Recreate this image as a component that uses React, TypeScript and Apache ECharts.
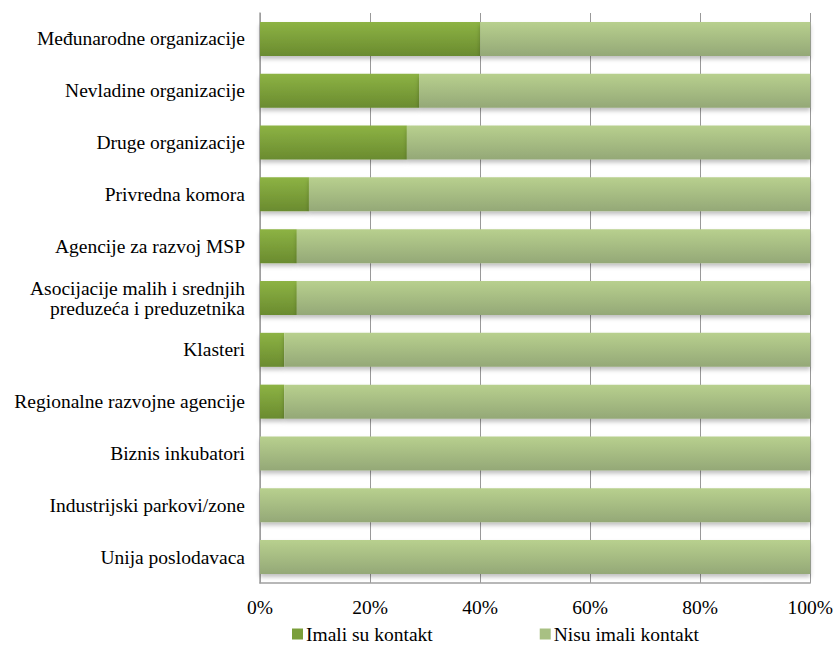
import React, { useEffect, useRef } from "react";
import * as echarts from "echarts";

const categories = [
  "Međunarodne organizacije",
  "Nevladine organizacije",
  "Druge organizacije",
  "Privredna komora",
  "Agencije za razvoj MSP",
  "Asocijacije malih i srednjih\npreduzeća i preduzetnika",
  "Klasteri",
  "Regionalne razvojne agencije",
  "Biznis inkubatori",
  "Industrijski parkovi/zone",
  "Unija poslodavaca",
];
const imaliSuKontakt = [40, 28.9, 26.7, 8.9, 6.7, 6.7, 4.4, 4.4, 0, 0, 0];
const nisuImaliKontakt = [60, 71.1, 73.3, 91.1, 93.3, 93.3, 95.6, 95.6, 100, 100, 100];
const xTicks = [0, 20, 40, 60, 80, 100];

const FONT = "'Liberation Serif', 'Times New Roman', serif";

export default function App() {
  const ref = useRef<HTMLDivElement>(null);
  useEffect(() => {
    if (!ref.current) return;
    const chart = echarts.init(ref.current, null, { renderer: "svg" });
    const darkGrad = new echarts.graphic.LinearGradient(0, 0, 0, 1, [
      { offset: 0, color: "#8db344" },
      { offset: 1, color: "#6a8b2f" },
    ]);
    const lightGrad = new echarts.graphic.LinearGradient(0, 0, 0, 1, [
      { offset: 0, color: "#b8d08e" },
      { offset: 1, color: "#94a877" },
    ]);
    chart.setOption({
      animation: false,
      backgroundColor: "#ffffff",
      textStyle: { fontFamily: FONT, color: "#000" },
      grid: { left: 260, right: 23, top: 13, bottom: 65 },
      legend: {
        top: 624,
        left: 292,
        padding: 0,
        itemWidth: 11,
        itemHeight: 11,
        itemGap: 107,
        icon: "rect",
        textStyle: {
          fontFamily: FONT,
          fontSize: 19.5,
          lineHeight: 20,
          color: "#000",
          padding: [0, 0, 0, -2],
        },
        data: [
          { name: "Imali su kontakt", itemStyle: { color: "#7a9e3a" } },
          { name: "Nisu imali kontakt", itemStyle: { color: "#a8c083" } },
        ],
      },
      xAxis: {
        type: "value",
        min: 0,
        max: 100,
        interval: 20,
        axisLine: { show: true, lineStyle: { color: "#a0a0a0", width: 1.5 } },
        axisTick: { show: false },
        splitLine: { show: true, lineStyle: { color: "#999999", width: 1 } },
        axisLabel: {
          margin: 14,
          fontFamily: FONT,
          fontSize: 19.5,
          color: "#000",
          formatter: (v: number) => (xTicks.includes(v) ? v + "%" : ""),
        },
      },
      yAxis: {
        type: "category",
        inverse: true,
        data: categories,
        axisLine: { show: true, lineStyle: { color: "#a0a0a0", width: 1.5 } },
        axisTick: { show: false },
        axisLabel: {
          margin: 15,
          fontFamily: FONT,
          fontSize: 19.5,
          lineHeight: 20,
          color: "#000",
          align: "right",
        },
      },
      series: [
        {
          name: "Imali su kontakt",
          type: "bar",
          stack: "total",
          barWidth: 34,
          data: imaliSuKontakt,
          itemStyle: {
            color: darkGrad,
            shadowColor: "rgba(0,0,0,0.25)",
            shadowBlur: 4,
            shadowOffsetY: 3,
          },
        },
        {
          name: "Nisu imali kontakt",
          type: "bar",
          stack: "total",
          barWidth: 34,
          data: nisuImaliKontakt,
          itemStyle: {
            color: lightGrad,
            shadowColor: "rgba(0,0,0,0.25)",
            shadowBlur: 4,
            shadowOffsetY: 3,
          },
        },
      ],
    });
    return () => chart.dispose();
  }, []);
  return (
    <div
      ref={ref}
      style={{ position: "absolute", left: 0, top: 0, width: 836, height: 648 }}
    />
  );
}
